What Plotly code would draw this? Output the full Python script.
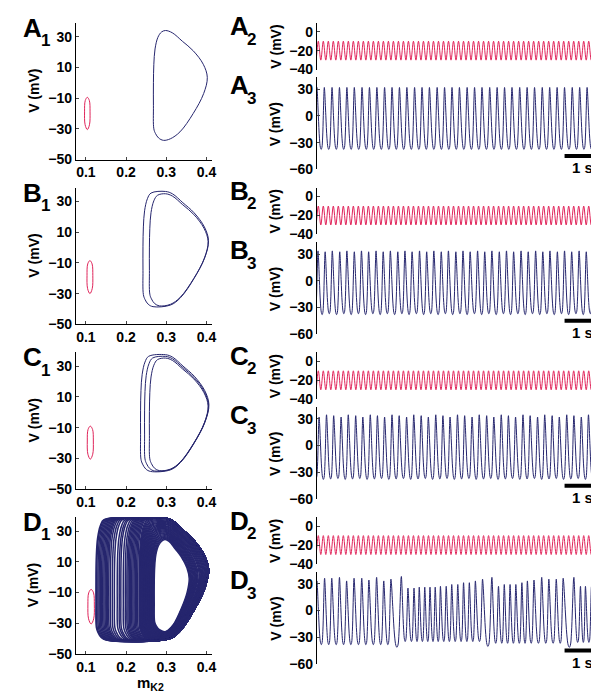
import plotly.graph_objects as go

W, H = 599, 698
FONT = "Liberation Sans, Arial, Helvetica, sans-serif"
RED = "#E0245A"
NAVY = "#26266E"

# ---------------- axis ranges / ticks ----------------
MK2_RANGE = [0.075, 0.414]
V_PHASE_RANGE = [-50, 39]
RED_V_RANGE = [-40, 9.5]
BLUE_V_RANGE = [-60, 43.5]
TIME_RANGE = [0, 10]
MK2_TICKS = [0.1, 0.2, 0.3, 0.4]
MK2_TICK_TEXT = ["0.1", "0.2", "0.3", "0.4"]
V_PHASE_TICKS = [-50, -30, -10, 10, 30]
RED_V_TICKS = [-40, -20, 0]
BLUE_V_TICKS = [-60, -30, 0, 30]
ROW_LETTERS = ["A", "B", "C", "D"]
SCALEBAR_T = [9.0, 10.0]
SCALEBAR_V = -45

# ---------------- small (red) limit cycle in phase plane ----------------
RED_LOOP_CENTER = [0.1035, 0.110, 0.111, 0.113]
RED_LOOP_HALFWIDTH = [0.0068, 0.0072, 0.0075, 0.0080]
RED_LOOP_TOP = [-9.5, -8.5, -9.0, -8.0]
RED_LOOP_BOTTOM = [-30.5, -30.0, -30.5, -30.5]
RED_LOOP_U = [0.0, 0.75, 1.0, 0.8, 0.0, -0.8, -1.0, -0.75, 0.0]
RED_LOOP_W = [1.0, 0.8, 0.1, -0.7, -1.0, -0.7, 0.1, 0.8, 1.0]

# ---------------- large (blue) limit cycle outline read from A1 ----------------
BASE_LOOP_X = [0.269, 0.268, 0.268, 0.269, 0.272, 0.279, 0.288, 0.298, 0.315, 0.340,
               0.367, 0.392, 0.402, 0.393, 0.367, 0.334, 0.310, 0.293, 0.281, 0.273, 0.269]
BASE_LOOP_V = [-30, -15, 0, 12, 22, 29.5, 33, 34, 32.5, 27,
               20.8, 12, 3.5, -7, -20, -32, -36.5, -37.5, -36, -33, -30]

# per-loop left edge, right edge, top, bottom
LOOP_LEFT = [
    [0.268],
    [0.242, 0.258],
    [0.236, 0.246, 0.258],
    [0.2700, 0.2684, 0.2668, 0.2651, 0.2635, 0.2619, 0.2603, 0.2586, 0.2570, 0.2554,
     0.2538, 0.2521, 0.2505, 0.2489, 0.2473, 0.2457, 0.2440, 0.2424, 0.2408, 0.2392,
     0.2375, 0.2359, 0.2343, 0.2325,
     0.229, 0.226, 0.223, 0.220, 0.217, 0.214, 0.211, 0.208, 0.205, 0.202, 0.198, 0.193,
     0.187, 0.183, 0.178, 0.171, 0.166, 0.161, 0.157, 0.154, 0.151, 0.148, 0.145, 0.142,
     0.139, 0.136, 0.133, 0.130, 0.127, 0.125],
]
LOOP_RIGHT = [
    [0.402],
    [0.405, 0.404],
    [0.406, 0.405, 0.404],
    [0.357, 0.359, 0.361, 0.363, 0.365, 0.367, 0.369, 0.371, 0.373, 0.375,
     0.377, 0.379, 0.382, 0.384, 0.386, 0.388, 0.390, 0.392, 0.394, 0.396,
     0.398, 0.400, 0.402, 0.404,
     0.405, 0.405, 0.405, 0.405, 0.405, 0.405, 0.405, 0.405, 0.405, 0.405, 0.405, 0.405,
     0.405, 0.405, 0.405, 0.405, 0.405, 0.405, 0.405, 0.405, 0.405, 0.405, 0.405, 0.405,
     0.405, 0.405, 0.405, 0.405, 0.405, 0.405],
]
LOOP_TOP = [
    [34.0],
    [36.5, 35.0],
    [37.5, 36.4, 35.3],
    [24.5, 25.1, 25.7, 26.3, 26.9, 27.5, 28.1, 28.7, 29.3, 29.9,
     30.5, 31.1, 31.7, 32.3, 32.9, 33.5, 34.2, 34.8, 35.4, 36.0,
     36.6, 37.2, 37.8, 38.4,
     38.5, 38.5, 38.5, 38.5, 38.5, 38.5, 38.5, 38.5, 38.5, 38.5, 38.5, 38.5,
     38.5, 38.5, 38.5, 38.5, 38.5, 38.5, 38.5, 38.5, 38.5, 38.5, 38.5, 38.5,
     38.5, 38.5, 38.5, 38.5, 38.5, 38.5],
]
LOOP_BOTTOM = [
    [-37.5],
    [-38.5, -38.0],
    [-38.5, -38.2, -38.0],
    [-35.5, -35.7, -36.0, -36.2, -36.5, -36.7, -36.9, -37.2, -37.4, -37.7,
     -37.9, -38.1, -38.4, -38.6, -38.8, -39.1, -39.3, -39.6, -39.8, -40.0,
     -40.3, -40.5, -40.8, -41.0,
     -41.0, -41.0, -41.0, -41.0, -41.0, -41.0, -41.0, -41.0, -41.0, -41.0, -41.0, -41.0,
     -41.0, -41.0, -41.0, -41.0, -41.0, -41.0, -41.0, -41.0, -41.0, -41.0, -41.0, -41.0,
     -41.0, -41.0, -41.0, -41.0, -41.0, -41.0],
]

# ---------------- voltage traces: spike peak times / peak & trough values ----------------
A_PEAK_T = [-0.27, 0.00, 0.27, 0.55, 0.82, 1.09, 1.36, 1.64, 1.91, 2.18, 2.46, 2.73, 3.00,
            3.27, 3.55, 3.82, 4.09, 4.37, 4.64, 4.91, 5.18, 5.46, 5.73, 6.00, 6.28, 6.55,
            6.82, 7.09, 7.37, 7.64, 7.91, 8.19, 8.46, 8.73, 9.00, 9.28, 9.55, 9.82, 10.10]
A_PEAK_V = [32, 32, 32, 32, 32, 32, 32, 32, 32, 32, 32, 32, 32, 32, 32, 32, 32, 32, 32, 32,
            32, 32, 32, 32, 32, 32, 32, 32, 32, 32, 32, 32, 32, 32, 32, 32, 32, 32, 32]
A_TROUGH_V = [-37.5, -37.5, -37.5, -37.5, -37.5, -37.5, -37.5, -37.5, -37.5, -37.5,
              -37.5, -37.5, -37.5, -37.5, -37.5, -37.5, -37.5, -37.5, -37.5, -37.5,
              -37.5, -37.5, -37.5, -37.5, -37.5, -37.5, -37.5, -37.5, -37.5, -37.5,
              -37.5, -37.5, -37.5, -37.5, -37.5, -37.5, -37.5, -37.5]

B_PEAK_T = [-0.22, 0.04, 0.30, 0.56, 0.83, 1.09, 1.36, 1.62, 1.88, 2.15, 2.41, 2.67, 2.94,
            3.20, 3.46, 3.73, 3.99, 4.25, 4.52, 4.78, 5.05, 5.31, 5.57, 5.84, 6.10, 6.36,
            6.63, 6.89, 7.15, 7.42, 7.68, 7.95, 8.21, 8.47, 8.74, 9.00, 9.26, 9.53, 9.79, 10.05]
B_PEAK_V = [32.5, 33.5, 32.5, 33.5, 32.5, 33.5, 32.5, 33.5, 32.5, 33.5, 32.5, 33.5, 32.5,
            33.5, 32.5, 33.5, 32.5, 33.5, 32.5, 33.5, 32.5, 33.5, 32.5, 33.5, 32.5, 33.5,
            32.5, 33.5, 32.5, 33.5, 32.5, 33.5, 32.5, 33.5, 32.5, 33.5, 32.5, 33.5, 32.5, 33.5]
B_TROUGH_V = [-37, -38, -37, -38, -37, -38, -37, -38, -37, -38, -37, -38, -37, -38, -37,
              -38, -37, -38, -37, -38, -37, -38, -37, -38, -37, -38, -37, -38, -37, -38,
              -37, -38, -37, -38, -37, -38, -37, -38, -37]

C_PEAK_T = [-0.18, 0.08, 0.35, 0.61, 0.88, 1.14, 1.41, 1.67, 1.94, 2.20, 2.46, 2.73, 2.99,
            3.26, 3.52, 3.79, 4.05, 4.32, 4.58, 4.84, 5.11, 5.37, 5.64, 5.90, 6.17, 6.43,
            6.70, 6.96, 7.22, 7.49, 7.75, 8.02, 8.28, 8.55, 8.81, 9.08, 9.34, 9.61, 9.87, 10.14]
C_PEAK_V = [33.5, 32, 34.5, 33.5, 32, 34.5, 33.5, 32, 34.5, 33.5, 32, 34.5, 33.5, 32,
            34.5, 33.5, 32, 34.5, 33.5, 32, 34.5, 33.5, 32, 34.5, 33.5, 32, 34.5, 33.5,
            32, 34.5, 33.5, 32, 34.5, 33.5, 32, 34.5, 33.5, 32, 34.5, 33.5]
C_TROUGH_V = [-37, -38, -37.5, -37, -38, -37.5, -37, -38, -37.5, -37, -38, -37.5, -37,
              -38, -37.5, -37, -38, -37.5, -37, -38, -37.5, -37, -38, -37.5, -37, -38,
              -37.5, -37, -38, -37.5, -37, -38, -37.5, -37, -38, -37.5, -37, -38, -37.5]

D_PEAK_T = [-0.27, 0.00, 0.28, 0.54, 0.82, 1.08, 1.35, 1.63, 1.89, 2.17, 2.43, 2.69, 3.07,
            3.31, 3.53, 3.72, 3.92, 4.11, 4.30, 4.49, 4.70, 4.90, 5.12, 5.33, 5.54, 5.76,
            6.02, 6.36, 6.60, 6.81, 7.02, 7.23, 7.45, 7.65, 7.89, 8.17, 8.43, 8.70, 8.95,
            9.34, 9.58, 9.76, 9.98, 10.18]
D_PEAK_V = [33, 33, 36, 36, 37, 33, 36, 36, 34, 37, 33, 35, 38, 25, 25, 26, 26, 26, 26,
            27, 27, 29, 29, 31, 31, 33, 35, 37, 27, 29, 29, 29, 31, 33, 34, 37, 35, 35,
            36, 37, 27, 27, 27, 27]
D_TROUGH_V = [-38.5, -38.5, -38.5, -38.5, -38.5, -38.5, -38.5, -38.5, -38.5, -38.5, -38.5,
              -41.5, -35, -35, -35, -35, -35, -35, -35, -35, -35, -35, -35, -35, -35, -35,
              -40.5, -37, -37, -37, -37, -37, -37, -37, -37, -37, -37, -37, -41.5,
              -36, -36, -36, -36]

PEAK_T = [A_PEAK_T, B_PEAK_T, C_PEAK_T, D_PEAK_T]
PEAK_V = [A_PEAK_V, B_PEAK_V, C_PEAK_V, D_PEAK_V]
TROUGH_V = [A_TROUGH_V, B_TROUGH_V, C_TROUGH_V, D_TROUGH_V]

# single-cycle spike profile (fraction of inter-peak interval -> level 0 trough .. 1 peak)
WAVE_FRAC = [0.05, 0.19, 0.34, 0.47, 0.57, 0.67, 0.77, 0.86, 0.93, 0.975]
WAVE_LEVEL = [0.93, 0.55, 0.18, 0.03, 0.0, 0.03, 0.20, 0.55, 0.86, 0.985]
WAVE_SWITCH = 0.6

# red (fast) oscillation
RED_FIRST_PEAK = 0.05
RED_PERIOD = 0.182
RED_HIGH = -10
RED_LOW = -30
RED_N_HALF = 112

# ---------------- layout constants (pixels) ----------------
ROW_DY = 166.7
LEFT_X = (68.3, 205.5)
LEFT_Y = (15.0, 153.3)
RIGHT_X = (311.0, 588.0)
RED_Y = (15.0, 62.3)
BLUE_Y = (70.0, 163.3)


def pxx(p):
    return p / W


def pxy(p):
    return 1 - p / H


def loop_points(xl, xr, top, bot):
    bxl, bxr, btop, bbot, split = 0.268, 0.402, 34.0, -37.5, 0.296
    xs, vs = [], []
    for bx, bv in zip(BASE_LOOP_X, BASE_LOOP_V):
        if bx < split:
            x = bx + (xl - bxl)
        else:
            x = bx + (xr - bxr) * (bx - split) / (bxr - split)
        v = bot + (bv - bbot) * (top - bot) / (btop - bbot)
        xs.append(x)
        vs.append(v)
    return xs, vs


def build_wave(pt, pv, tv):
    t, v = [pt[0]], [pv[0]]
    for i in range(len(pt) - 1):
        T = pt[i + 1] - pt[i]
        for f, lv in zip(WAVE_FRAC, WAVE_LEVEL):
            pk = pv[i] if f < WAVE_SWITCH else pv[i + 1]
            t.append(pt[i] + f * T)
            v.append(tv[i] + lv * (pk - tv[i]))
        t.append(pt[i + 1])
        v.append(pv[i + 1])
    return t, v


def red_wave():
    t, v = [], []
    for k in range(-2, RED_N_HALF + 2):
        t.append(RED_FIRST_PEAK + k * RED_PERIOD / 2)
        v.append(RED_HIGH if k % 2 == 0 else RED_LOW)
    return t, v


def ax(kind, n):
    return kind if n == 1 else f"{kind}{n}"


fig = go.Figure()
layout = {}
annotations = []
shapes = []
tickfont = dict(family=FONT, size=14, color="black", weight="bold")

for r in range(4):
    dy = r * ROW_DY
    nl, nr, nb = 3 * r + 1, 3 * r + 2, 3 * r + 3

    # ---- left phase plane ----
    layout[ax("xaxis", nl)] = dict(
        domain=[pxx(LEFT_X[0]), pxx(LEFT_X[1])], range=MK2_RANGE, anchor=ax("y", nl),
        showline=True, linecolor="black", linewidth=1, ticks="inside", ticklen=3,
        tickvals=MK2_TICKS, ticktext=MK2_TICK_TEXT, tickfont=tickfont,
        showgrid=False, zeroline=False)
    layout[ax("yaxis", nl)] = dict(
        domain=[pxy(LEFT_Y[1] + dy), pxy(LEFT_Y[0] + dy)], range=V_PHASE_RANGE,
        anchor=ax("x", nl), showline=True, linecolor="black", linewidth=1,
        ticks="inside", ticklen=3, tickvals=V_PHASE_TICKS, tickfont=tickfont,
        showgrid=False, zeroline=False)

    # red loop
    c, hw = RED_LOOP_CENTER[r], RED_LOOP_HALFWIDTH[r]
    mid = (RED_LOOP_TOP[r] + RED_LOOP_BOTTOM[r]) / 2
    hh = (RED_LOOP_TOP[r] - RED_LOOP_BOTTOM[r]) / 2
    fig.add_trace(go.Scatter(
        x=[c + u * hw for u in RED_LOOP_U], y=[mid + w * hh for w in RED_LOOP_W],
        mode="lines", line=dict(color=RED, width=1, shape="spline"),
        xaxis=ax("x", nl), yaxis=ax("y", nl), showlegend=False, hoverinfo="skip"))

    # blue loops
    lx, lv = [], []
    for xl, xr, tp, bt in zip(LOOP_LEFT[r], LOOP_RIGHT[r], LOOP_TOP[r], LOOP_BOTTOM[r]):
        xs, vs = loop_points(xl, xr, tp, bt)
        lx += xs + [None]
        lv += vs + [None]
    fig.add_trace(go.Scatter(
        x=lx, y=lv, mode="lines",
        line=dict(color=NAVY, width=1.5 if r == 3 else 1, shape="spline"),
        xaxis=ax("x", nl), yaxis=ax("y", nl), showlegend=False, hoverinfo="skip"))

    # ---- red voltage trace ----
    layout[ax("xaxis", nr)] = dict(
        domain=[pxx(RIGHT_X[0]), pxx(RIGHT_X[1])], range=TIME_RANGE, anchor=ax("y", nr),
        visible=False)
    layout[ax("yaxis", nr)] = dict(
        domain=[pxy(RED_Y[1] + dy), pxy(RED_Y[0] + dy)], range=RED_V_RANGE,
        anchor=ax("x", nr), showline=True, linecolor="black", linewidth=1,
        ticks="inside", ticklen=3, tickvals=RED_V_TICKS, tickfont=tickfont,
        showgrid=False, zeroline=False)
    rt, rv = red_wave()
    fig.add_trace(go.Scatter(
        x=rt, y=rv, mode="lines", line=dict(color=RED, width=1, shape="spline"),
        xaxis=ax("x", nr), yaxis=ax("y", nr), showlegend=False, hoverinfo="skip"))

    # ---- blue voltage trace ----
    layout[ax("xaxis", nb)] = dict(
        domain=[pxx(RIGHT_X[0]), pxx(RIGHT_X[1])], range=TIME_RANGE, anchor=ax("y", nb),
        visible=False)
    layout[ax("yaxis", nb)] = dict(
        domain=[pxy(BLUE_Y[1] + dy), pxy(BLUE_Y[0] + dy)], range=BLUE_V_RANGE,
        anchor=ax("x", nb), showline=True, linecolor="black", linewidth=1,
        ticks="inside", ticklen=3, tickvals=BLUE_V_TICKS, tickfont=tickfont,
        showgrid=False, zeroline=False)
    bt_, bv_ = build_wave(PEAK_T[r], PEAK_V[r], TROUGH_V[r])
    fig.add_trace(go.Scatter(
        x=bt_, y=bv_, mode="lines", line=dict(color=NAVY, width=1, shape="spline"),
        xaxis=ax("x", nb), yaxis=ax("y", nb), showlegend=False, hoverinfo="skip"))

    # scale bar
    shapes.append(dict(type="line", xref=ax("x", nb), yref=ax("y", nb),
                       x0=SCALEBAR_T[0], x1=SCALEBAR_T[1], y0=SCALEBAR_V, y1=SCALEBAR_V,
                       line=dict(color="black", width=4)))

    # ---- text ----
    L = ROW_LETTERS[r]

    def txt(s, x, y, size, angle=0):
        annotations.append(dict(text=s, x=pxx(x), y=pxy(y + dy), xref="paper", yref="paper",
                                xanchor="center", yanchor="middle", showarrow=False,
                                textangle=angle,
                                font=dict(family=FONT, size=size, color="black")))

    txt(f"<b>{L}</b>", 24.5, 20, 26)
    txt("<b>1</b>", 37.5, 33, 17)
    txt(f"<b>{L}</b>", 233, 18.5, 26)
    txt("<b>2</b>", 245, 31.5, 17)
    txt(f"<b>{L}</b>", 233, 78.3, 26)
    txt("<b>3</b>", 245, 92, 17)
    txt("<b>V (mV)</b>", 26, 84, 14, -90)
    txt("<b>V (mV)</b>", 269, 39, 14, -90)
    txt("<b>V (mV)</b>", 269, 117.5, 14, -90)
    txt("<b>1 s</b>", 578, 161.7, 15)
    if r == 3:
        txt("<b>m<sub>K2</sub></b>", 143, 183, 15)

fig.update_layout(
    width=W, height=H, margin=dict(l=0, r=0, t=0, b=0),
    paper_bgcolor="white", plot_bgcolor="white",
    font=dict(family=FONT, size=14, color="black"),
    annotations=annotations, shapes=shapes, showlegend=False, **layout)

fig.write_html("out.html")
